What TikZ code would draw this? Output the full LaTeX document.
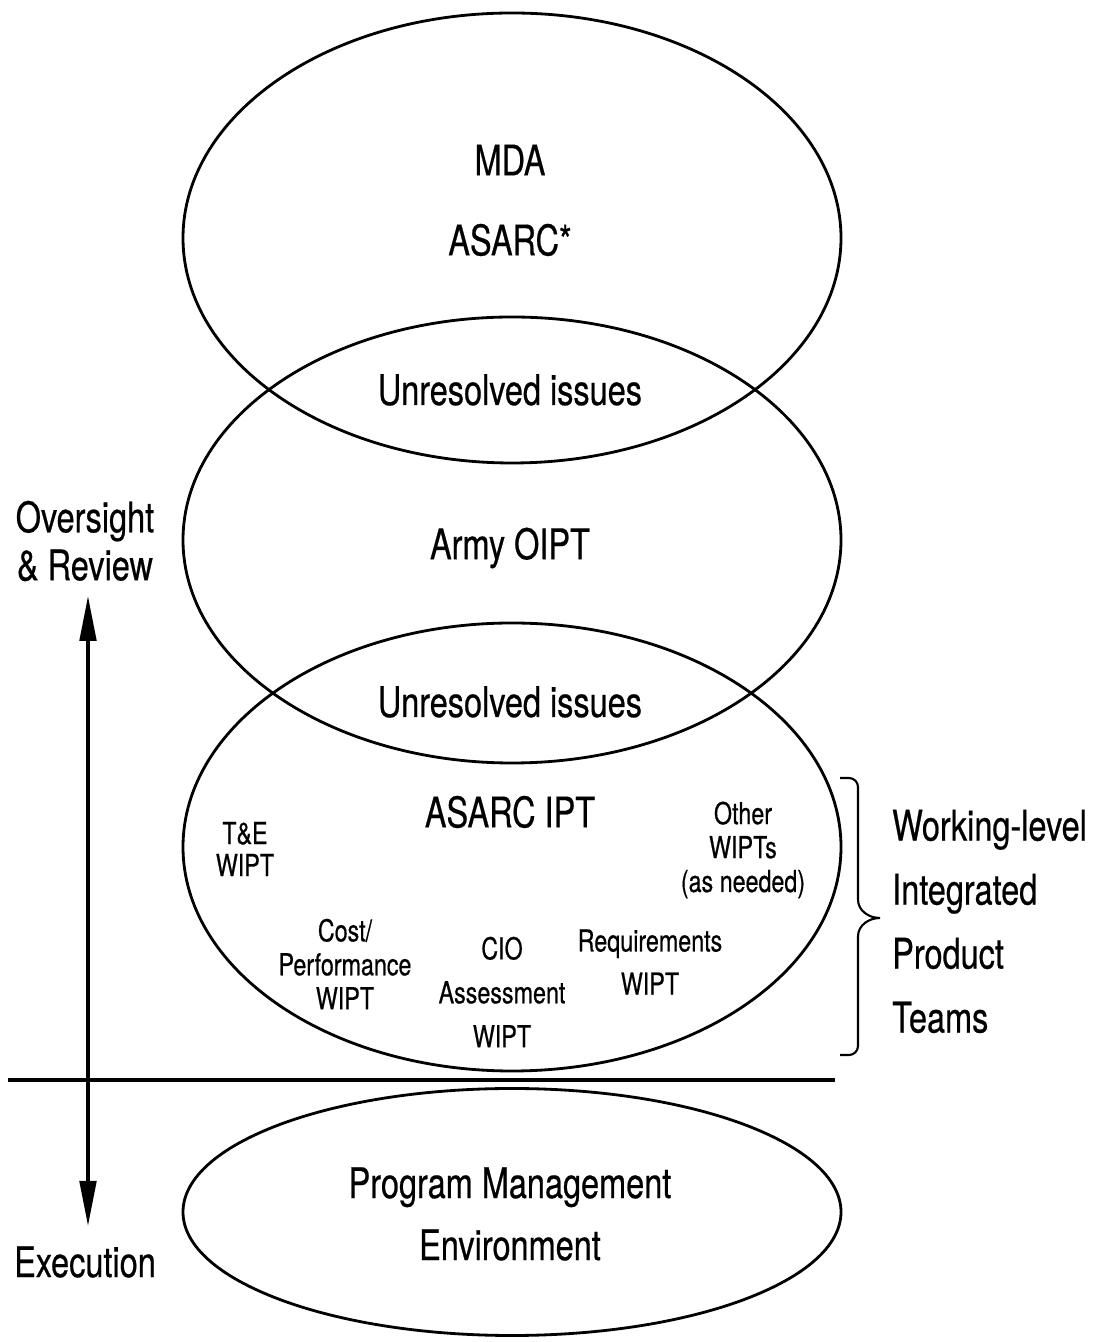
\documentclass[tikz,border=0pt]{standalone}
\usepackage{fontspec}
\setmainfont{TeX Gyre Heros}[FakeStretch=0.77, FakeBold=0.5]
\usepackage{tikz}
\usetikzlibrary{decorations.pathreplacing, positioning, shapes.geometric, arrows.meta}

\tikzset{
  ring/.style={draw, ellipse, line width=1.6pt, inner sep=0pt, minimum width=13.16cm},
  big/.style={font=\fontsize{24}{36.4}\selectfont, align=center},
  wipt/.style={font=\fontsize{17.2}{19.3}\selectfont, align=center}
}

\begin{document}
\begin{tikzpicture}
  \useasboundingbox (0,0) rectangle (21.94,26.84);
  % the four levels
  \node[ring, minimum height=9cm] (mda) at (10.24,22.08) {};
  \node[ring, minimum height=8.92cm] (oipt) at (10.24,16.04) {};
  \node[ring, minimum height=8.96cm] (ipt) at (10.24,9.9) {};
  \node[ring, minimum height=4.94cm] (pme) at (10.24,2.6) {};

  \node[big] (mdaname) at (10.2,23.64) {MDA};
  \node[big] (asarc) at (10.2,22.04) {ASARC*};
  \node[big] (issuesA) at (10.2,19.04) {Unresolved issues};
  \node[big] (army) at (10.2,15.88) {Army OIPT};
  \node[big] (issuesB) at (10.2,12.8) {Unresolved issues};
  \node[big] (asarcipt) at (10.2,10.6) {ASARC IPT};
  \node[big] (pmename) at (10.2,2.56) {Program Management\\[-1.1pt]Environment};

  % working-level teams
  \node[wipt, font=\fontsize{17.2}{18.2}\selectfont] (te) at (4.9,9.86) {T\&E\\WIPT};
  \node[wipt] (other) at (14.86,9.84) {Other\\WIPTs\\(as needed)};
  \node[wipt] (cost) at (6.9,7.56) {Cost/\\Performance\\WIPT};
  \node[wipt, font=\fontsize{17.2}{25}\selectfont] (cio) at (10.04,7.0) {CIO\\Assessment\\WIPT};
  \node[wipt, font=\fontsize{17.2}{24.5}\selectfont] (req) at (13.0,7.6) {Requirements\\WIPT};

  % brace and side labels
  \coordinate (btop) at (16.8,11.28);
  \coordinate (btip) at (17.6,8.48);
  \coordinate (bbot) at (16.8,5.74);
  \draw[line width=1.2pt] (btop) -- (16.98,11.28) to[out=0,in=90] (17.16,11.1) -- (17.16,8.85)
    to[out=-90,in=180] (btip) to[out=180,in=90] (17.16,8.11) -- (17.16,5.92)
    to[out=-90,in=0] (16.98,5.74) -- (bbot);
  \node[big, align=left, anchor=west] (teams) at (17.72,8.41) {Working-level\\Integrated\\Product\\Teams};

  \node[font=\fontsize{24}{27.3}\selectfont, align=center] (over) at (1.7,16.02) {Oversight\\\& Review};
  \node[big] (exec) at (1.7,1.6) {Execution};

  \coordinate (up) at (1.76,14.94);
  \coordinate (down) at (1.76,2.3);
  \draw[line width=2.8pt, {Triangle[length=0.92cm,width=0.32cm]}-{Triangle[length=0.92cm,width=0.32cm]}] (down) -- (up);

  \coordinate (lineL) at (0.16,5.24);
  \coordinate (lineR) at (16.7,5.24);
  \draw[line width=2.3pt] (lineL) -- (lineR);
\end{tikzpicture}
\end{document}
